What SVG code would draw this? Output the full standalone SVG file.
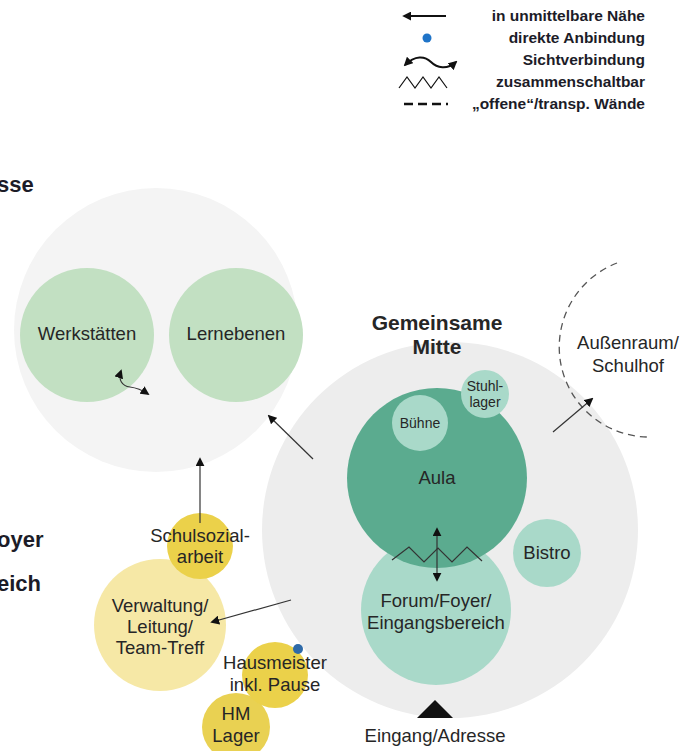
<svg xmlns="http://www.w3.org/2000/svg" width="690" height="751" viewBox="0 0 690 751">
<defs>
<style>
.t{font-family:"Liberation Sans",Arial,sans-serif;fill:#262626;text-anchor:middle}
.lbl{font-size:18.5px}
.sm{font-size:14px}
.b{font-weight:bold}
.leg{font-family:"Liberation Sans",Arial,sans-serif;font-weight:bold;font-size:15.5px;fill:#1c1c28;text-anchor:end}
.hd{font-family:"Liberation Sans",Arial,sans-serif;font-weight:bold;font-size:22px;fill:#1c1c28}
.ln{stroke:#333;stroke-width:1.2;fill:none}
</style>
<marker id="ah" viewBox="0 0 10 10" refX="8" refY="5" markerWidth="9" markerHeight="9" orient="auto-start-reverse" markerUnits="userSpaceOnUse">
<path d="M0,0 L10,5 L0,10 Z" fill="#111"/>
</marker>
</defs>
<rect width="690" height="751" fill="#fff"/>

<!-- legend -->
<g id="legend">
<line x1="446" y1="16" x2="404" y2="16" stroke="#111" stroke-width="2" marker-end="url(#ah)"/>
<text class="leg" x="645" y="21">in unmittelbare Nähe</text>
<circle cx="427" cy="38" r="4.5" fill="#1f74c8"/>
<text class="leg" x="645" y="43">direkte Anbindung</text>
<path d="M405,65 C415,55 425,56 431,62 C437,68 447,70 456,62" stroke="#111" stroke-width="2" fill="none" marker-start="url(#ah)" marker-end="url(#ah)"/>
<text class="leg" x="645" y="65">Sichtverbindung</text>
<polyline points="399,88 407,77 415,88 423,77 431,88 439,77 447,88" stroke="#111" stroke-width="1.2" fill="none"/>
<text class="leg" x="645" y="87">zusammenschaltbar</text>
<line x1="404" y1="104" x2="448" y2="104" stroke="#111" stroke-width="2.5" stroke-dasharray="9,5"/>
<text class="leg" x="645" y="109">„offene“/transp. Wände</text>
</g>

<!-- cut-off headings -->
<g id="headings">
<text class="hd" x="-3" y="192">sse</text>
<text class="hd" x="-3" y="547">oyer</text>
<text class="hd" x="-3" y="591">eich</text>
</g>

<!-- left cluster -->
<g id="cluster-left"><circle cx="156" cy="330" r="142" fill="#f4f4f4"/></g>
<g id="werkstaetten"><circle cx="87" cy="335" r="67" fill="#c2e0c2"/><text class="t lbl" x="87" y="340">Werkstätten</text></g>
<g id="lernebenen"><circle cx="236" cy="335" r="67" fill="#c2e0c2"/><text class="t lbl" x="236" y="340">Lernebenen</text></g>

<!-- central cluster -->
<g id="gemeinsame-mitte">
<circle cx="450" cy="530" r="188" fill="#ededed"/>
<text class="t b" x="437" y="330" font-size="21">Gemeinsame</text>
<text class="t b" x="437" y="354" font-size="21">Mitte</text>
</g>
<g id="aussenraum">
<path d="M617,263 A90,90 0 0 0 647,437" stroke="#555" stroke-width="1.3" fill="none" stroke-dasharray="7,5"/>
<text class="t" x="628" y="349" font-size="18.5">Außenraum/</text>
<text class="t" x="628" y="372" font-size="18.5">Schulhof</text>
</g>
<g id="forum"><circle cx="436" cy="610" r="75" fill="#a9d9c9"/>
<text class="t lbl" x="436" y="607">Forum/Foyer/</text>
<text class="t lbl" x="436" y="629">Eingangsbereich</text></g>
<g id="aula"><circle cx="437" cy="478" r="90" fill="#5bab8f"/><text class="t lbl" x="437" y="484">Aula</text></g>
<g id="buehne"><circle cx="420" cy="423" r="28" fill="#a9d9c9"/><text class="t sm" x="420" y="428">Bühne</text></g>
<g id="stuhllager"><circle cx="485" cy="394" r="24" fill="#a9d9c9"/><text class="t sm" x="485" y="391">Stuhl-</text><text class="t sm" x="485" y="407">lager</text></g>
<g id="bistro"><circle cx="547" cy="553" r="34" fill="#a9d9c9"/><text class="t lbl" x="547" y="559">Bistro</text></g>

<!-- left lower -->
<g id="verwaltung"><circle cx="160" cy="625" r="66" fill="#f6e8a6"/>
<text class="t lbl" x="160" y="612">Verwaltung/</text>
<text class="t lbl" x="160" y="633">Leitung/</text>
<text class="t lbl" x="160" y="654">Team-Treff</text></g>
<g id="schulsozialarbeit"><circle cx="200" cy="546" r="33" fill="#ebd14a"/>
<text class="t lbl" x="200" y="542">Schulsozial-</text>
<text class="t lbl" x="200" y="563">arbeit</text></g>
<g id="hm-lager"><circle cx="236" cy="727" r="34" fill="#e9d152"/>
<text class="t lbl" x="236" y="720">HM</text>
<text class="t lbl" x="236" y="742">Lager</text></g>
<g id="hausmeister"><circle cx="275" cy="675" r="33" fill="#ebd14a"/>
<circle cx="298" cy="649" r="5" fill="#2f6aa8"/>
<text class="t lbl" x="275" y="669">Hausmeister</text>
<text class="t lbl" x="275" y="691">inkl. Pause</text></g>
<g id="eingang"><path d="M435,700 L453,718 L417,718 Z" fill="#111"/>
<text class="t lbl" x="435" y="742">Eingang/Adresse</text></g>

<!-- connectors -->
<g id="connectors">
<line class="ln" x1="313" y1="459" x2="269" y2="416" marker-end="url(#ah)"/>
<line class="ln" x1="553" y1="432" x2="592" y2="399" marker-end="url(#ah)"/>
<line class="ln" x1="200" y1="523" x2="200" y2="459" marker-end="url(#ah)"/>
<line class="ln" x1="291" y1="600" x2="212" y2="622" marker-end="url(#ah)"/>
<path class="ln" d="M121,371 C118,380 122,386 130,387 C138,388 142,390 148,394" marker-start="url(#ah)" marker-end="url(#ah)"/>
<polyline class="ln" points="392,560 409,547 424,562 438,548 452,562 467,547 482,561"/>
<line class="ln" x1="437" y1="529" x2="437" y2="580" marker-start="url(#ah)" marker-end="url(#ah)"/>
</g>
</svg>
